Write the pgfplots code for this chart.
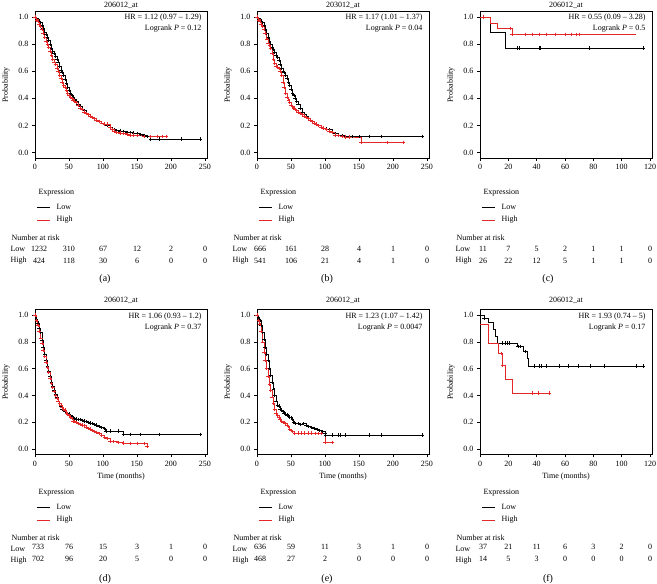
\documentclass[border=0pt]{standalone}
\usepackage{pgfplots}
\pgfplotsset{compat=1.18}
\usepackage{fontspec}
\setmainfont{Liberation Serif}
\definecolor{kmred}{RGB}{228,40,40}
\newcommand{\fs}{\fontsize{8}{9.6}\selectfont}
\pgfplotsset{
 km/.style={scale only axis, ymin=-0.04, ymax=1.04,
  ytick={0,0.2,0.4,0.6,0.8,1.0},
  yticklabel style={/pgf/number format/.cd, fixed, fixed zerofill, precision=1},
  /pgf/number format/assume math mode=true,
  tick align=outside, xtick pos=bottom, ytick pos=left,
  major tick length=3pt, tick style={black, line width=0.5pt},
  axis line style={line width=0.6pt},
  ticklabel style={font=\fs},
  ylabel={Probability},
  every axis title shift=0pt,
  every axis y label/.style={at={([xshift=-29pt]axis description cs:0,0.5)}, rotate=90, anchor=center, font=\fs},
  every axis x label/.style={at={([yshift=-22.6pt]axis description cs:0.5,0)}, anchor=center, font=\fs},
  title style={font=\fs, anchor=center},
 },
 wide/.style={width=172pt, xmin=0, xmax=253, xtick={0,50,100,150,200,250}},
 narrow/.style={width=172pt, xmin=0, xmax=121.4, xtick={0,20,40,60,80,100,120}},
 row1/.style={height=146.4pt, title style={at={([yshift=6.5pt]axis description cs:0.5,1)}}},
 row2/.style={height=144.8pt, title style={at={([yshift=9.6pt]axis description cs:0.5,1)}}, xlabel={Time (months)}},
 lowd/.style={const plot, black, line width=0.5pt, mark=+, mark size=1.7pt, mark options={line width=0.4pt}},
 highd/.style={const plot, kmred, line width=0.5pt, mark=+, mark size=1.7pt, mark options={line width=0.4pt}},
 lows/.style={const plot, black, line width=0.5pt, no marks},
 highs/.style={const plot, kmred, line width=0.5pt, no marks},
 lowm/.style={only marks, black, mark=+, mark size=1.8pt, mark options={line width=0.4pt}},
 highm/.style={only marks, kmred, mark=+, mark size=1.8pt, mark options={line width=0.4pt}},
}
\newcommand{\hr}[4]{% #1 right x, #2 top y, #3 HR text, #4 P
 \node[anchor=east] at (#1pt,-#2pt) {HR = #3};
 \node[anchor=east] at (#1pt,{-(#2+10.5)*1pt}) {Logrank \textit{P} = #4};}
\newcommand{\legblock}[2]{% #1 axis left, #2 y of Expression
 \node[anchor=west] at ({(#1-1)*1pt},-#2pt) {Expression};
 \draw[black, line width=0.6pt] ({(#1+1)*1pt},{-(#2+14)*1pt}) -- ({(#1+14)*1pt},{-(#2+14)*1pt});
 \node[anchor=west] at ({(#1+17)*1pt},{-(#2+14)*1pt}) {Low};
 \draw[kmred, line width=0.6pt] ({(#1+1)*1pt},{-(#2+27)*1pt}) -- ({(#1+14)*1pt},{-(#2+27)*1pt});
 \node[anchor=west] at ({(#1+17)*1pt},{-(#2+27)*1pt}) {High};
 \node[anchor=west] at ({(#1-28)*1pt},{-(#2+45)*1pt}) {Number at risk};
 \node[anchor=west] at ({(#1-29)*1pt},{-(#2+56)*1pt}) {Low};
 \node[anchor=west] at ({(#1-29)*1pt},{-(#2+68)*1pt}) {High};}
\begin{document}
\begin{tikzpicture}[font=\fs]
\path[use as bounding box] (0,0) rectangle (657pt,-584pt);
% ---------------- (a)
\begin{axis}[km, wide, row1, at={(35pt,-11.6pt)}, anchor=north west, title={206012\_at}]
\addplot[lowd] coordinates {(0,1.0)(2,0.99)(4,0.98)(6,0.97)(8,0.96)(10,0.94)(12,0.92)(14,0.89)(16,0.87)(18,0.85)(20,0.83)(22,0.80)(24,0.77)(26,0.75)(28,0.73)(30,0.71)(32,0.69)(34,0.67)(36,0.64)(38,0.61)(40,0.59)(42,0.57)(44,0.54)(46,0.51)(48,0.48)(50,0.46)(52,0.44)(54,0.42)(56,0.41)(58,0.39)(60,0.38)(63,0.36)(66,0.34)(69,0.32)(72,0.31)(75,0.29)(78,0.28)(81,0.27)(84,0.26)(87,0.25)(90,0.24)(94,0.23)(98,0.22)(102,0.21)(106,0.20)(110,0.19)(113,0.175)(116,0.17)(120,0.165)(125,0.16)(130,0.155)(135,0.15)(140,0.148)(145,0.145)(150,0.14)(155,0.135)(160,0.125)(165,0.12)(170,0.10)(183,0.10)(215,0.10)(243,0.10)};
\addplot[highd] coordinates {(0,1.0)(2,0.98)(4,0.97)(6,0.95)(8,0.93)(10,0.91)(12,0.88)(14,0.85)(16,0.82)(18,0.80)(20,0.78)(22,0.75)(24,0.72)(26,0.69)(28,0.67)(30,0.65)(32,0.62)(34,0.60)(36,0.57)(38,0.55)(40,0.52)(42,0.50)(44,0.48)(46,0.46)(48,0.44)(50,0.42)(52,0.41)(54,0.40)(56,0.39)(58,0.38)(60,0.37)(63,0.35)(66,0.33)(69,0.32)(72,0.30)(75,0.29)(78,0.28)(81,0.27)(84,0.26)(87,0.25)(90,0.24)(94,0.23)(98,0.22)(102,0.21)(106,0.21)(110,0.19)(113,0.17)(116,0.16)(120,0.15)(125,0.145)(130,0.14)(135,0.135)(140,0.13)(145,0.13)(150,0.125)(160,0.12)(170,0.12)(180,0.12)(187,0.12)(193,0.12)};
\end{axis}
% ---------------- (b)
\begin{axis}[km, wide, row1, at={(257pt,-11.6pt)}, anchor=north west, title={203012\_at}]
\addplot[lowd] coordinates {(0,1.0)(2,0.99)(4,0.98)(6,0.97)(8,0.96)(10,0.94)(12,0.91)(14,0.88)(16,0.85)(18,0.82)(20,0.80)(22,0.78)(24,0.76)(26,0.74)(28,0.72)(30,0.70)(32,0.68)(34,0.65)(36,0.62)(38,0.60)(40,0.59)(42,0.57)(44,0.55)(46,0.52)(48,0.50)(50,0.47)(52,0.44)(54,0.42)(56,0.40)(58,0.38)(60,0.36)(63,0.33)(66,0.30)(69,0.28)(72,0.27)(75,0.25)(78,0.24)(81,0.23)(84,0.22)(87,0.21)(90,0.20)(94,0.19)(98,0.18)(102,0.175)(106,0.17)(110,0.15)(115,0.14)(120,0.13)(125,0.125)(130,0.12)(140,0.12)(150,0.12)(165,0.12)(183,0.12)(243,0.12)};
\addplot[highd] coordinates {(0,1.0)(2,0.98)(4,0.97)(6,0.95)(8,0.93)(10,0.91)(12,0.88)(14,0.84)(16,0.81)(18,0.79)(20,0.77)(22,0.73)(24,0.69)(26,0.66)(28,0.64)(30,0.63)(32,0.62)(34,0.60)(36,0.57)(38,0.52)(40,0.48)(42,0.44)(44,0.41)(46,0.39)(48,0.37)(50,0.35)(52,0.34)(54,0.33)(56,0.32)(58,0.31)(60,0.30)(63,0.29)(66,0.28)(69,0.27)(72,0.26)(75,0.25)(78,0.24)(81,0.23)(84,0.22)(87,0.21)(90,0.20)(94,0.19)(98,0.18)(102,0.17)(106,0.16)(110,0.15)(115,0.13)(120,0.125)(125,0.12)(130,0.115)(135,0.115)(153,0.075)(192,0.075)(215,0.075)};
\end{axis}
% ---------------- (c)
\begin{axis}[km, narrow, row1, at={(480pt,-11.6pt)}, anchor=north west, title={206012\_at}]
\addplot[lows] coordinates {(0,1.0)(7,0.889)(18,0.77)(116,0.77)};
\addplot[highs] coordinates {(0,1.0)(7,0.957)(12,0.915)(22.5,0.87)(110,0.87)};
\addplot[lowm] coordinates {(26.5,0.77)(27.7,0.77)(41.5,0.77)(42.7,0.77)(77,0.77)(115,0.77)};
\addplot[highm] coordinates {(2.3,1.0)(21,0.915)(22.6,0.87)(32,0.87)(37,0.87)(41.5,0.87)(47,0.87)(53,0.87)(60,0.87)(64.6,0.87)(68,0.87)(70,0.87)};
\end{axis}
% ---------------- (d)
\begin{axis}[km, wide, row2, at={(35pt,-309.6pt)}, anchor=north west, title={206012\_at}]
\addplot[lowd] coordinates {(0,1.0)(2,0.97)(4,0.94)(6,0.90)(8,0.87)(10,0.81)(12,0.76)(14,0.71)(16,0.66)(18,0.62)(20,0.58)(22,0.54)(24,0.50)(26,0.47)(28,0.44)(30,0.41)(32,0.39)(34,0.36)(36,0.34)(38,0.32)(40,0.30)(42,0.29)(44,0.28)(46,0.275)(48,0.265)(50,0.26)(52,0.25)(54,0.24)(56,0.235)(58,0.23)(60,0.225)(63,0.22)(66,0.22)(69,0.215)(72,0.21)(75,0.205)(78,0.20)(81,0.195)(84,0.19)(87,0.185)(90,0.18)(94,0.17)(98,0.16)(102,0.155)(104,0.135)(110,0.135)(122,0.135)(130,0.11)(140,0.11)(155,0.11)(183,0.11)(243,0.11)};
\addplot[highd] coordinates {(0,1.0)(2,0.96)(4,0.92)(6,0.88)(8,0.83)(10,0.79)(12,0.74)(14,0.69)(16,0.65)(18,0.61)(20,0.57)(22,0.53)(24,0.49)(26,0.46)(28,0.43)(30,0.40)(32,0.38)(34,0.36)(36,0.34)(38,0.33)(40,0.31)(42,0.30)(44,0.29)(46,0.27)(48,0.26)(50,0.25)(52,0.24)(54,0.23)(56,0.21)(58,0.205)(60,0.20)(63,0.19)(66,0.185)(69,0.18)(72,0.175)(75,0.165)(78,0.155)(81,0.15)(84,0.14)(87,0.13)(90,0.125)(94,0.115)(98,0.10)(102,0.09)(106,0.08)(110,0.06)(115,0.055)(122,0.05)(130,0.045)(140,0.042)(150,0.042)(160,0.042)(165,0.02)};
\end{axis}
% ---------------- (e)
\begin{axis}[km, wide, row2, at={(257pt,-309.6pt)}, anchor=north west, title={206012\_at}]
\addplot[lowd] coordinates {(0,1.0)(2,0.98)(4,0.96)(6,0.92)(8,0.87)(10,0.82)(12,0.76)(14,0.71)(16,0.66)(18,0.60)(20,0.55)(22,0.50)(24,0.45)(26,0.40)(28,0.36)(30,0.33)(32,0.32)(34,0.30)(36,0.29)(38,0.28)(40,0.27)(42,0.26)(44,0.255)(46,0.25)(48,0.24)(50,0.235)(52,0.22)(54,0.20)(56,0.19)(60,0.19)(64,0.185)(68,0.19)(72,0.18)(76,0.17)(80,0.16)(84,0.155)(88,0.145)(92,0.14)(96,0.13)(100,0.12)(101,0.105)(110,0.105)(120,0.105)(122,0.105)(130,0.105)(165,0.105)(183,0.105)(243,0.105)};
\addplot[highd] coordinates {(0,1.0)(2,0.96)(4,0.93)(6,0.88)(8,0.80)(10,0.72)(12,0.66)(14,0.60)(16,0.54)(18,0.48)(20,0.44)(22,0.39)(24,0.34)(26,0.30)(28,0.27)(30,0.25)(32,0.24)(34,0.22)(36,0.21)(38,0.20)(40,0.20)(42,0.19)(44,0.18)(46,0.17)(48,0.15)(50,0.14)(52,0.13)(55,0.12)(60,0.12)(65,0.12)(70,0.12)(75,0.12)(80,0.12)(85,0.115)(90,0.115)(95,0.115)(100,0.05)(111,0.05)};
\end{axis}
% ---------------- (f)
\begin{axis}[km, narrow, row2, at={(480pt,-309.6pt)}, anchor=north west, title={206012\_at}]
\addplot[lows] coordinates {(0,1.0)(3,0.973)(6,0.946)(9,0.89)(11,0.84)(12.5,0.79)(26,0.765)(30.5,0.727)(33,0.68)(34,0.62)(116,0.62)};
\addplot[highs] coordinates {(0,0.929)(5.5,0.786)(13,0.714)(16,0.625)(17.5,0.52)(23,0.417)(49,0.417)};
\addplot[lowm] coordinates {(3,0.973)(16,0.79)(18,0.79)(19.5,0.79)(20.5,0.79)(27,0.765)(28.7,0.765)(31.7,0.727)(38,0.62)(42,0.62)(43,0.62)(47,0.62)(56,0.62)(62,0.62)(69,0.62)(78,0.62)(88,0.62)(110,0.62)(115,0.62)};
\addplot[highm] coordinates {(15,0.714)(16,0.625)(37,0.417)(41,0.417)(49,0.417)};
\end{axis}
% ---------------- annotations
\hr{205}{18}{1.12 (0.97 -- 1.29)}{0.12}
\hr{426}{18}{1.17 (1.01 -- 1.37)}{0.04}
\hr{649}{18}{0.55 (0.09 -- 3.28)}{0.5}
\hr{205}{317}{1.06 (0.93 -- 1.2)}{0.37}
\hr{426}{317}{1.23 (1.07 -- 1.42)}{0.0047}
\hr{649}{317}{1.93 (0.74 -- 5)}{0.17}
\legblock{36}{193}
\legblock{258}{193}
\legblock{481}{193}
\legblock{36}{493}
\legblock{258}{493}
\legblock{481}{493}
% risk numbers
\foreach \x/\a/\b in {39/1232/424, 69/310/118, 103/67/30, 137/12/6, 171/2/0, 205/0/0}
 {\node at (\x pt,-249pt) {\a}; \node at (\x pt,-261pt) {\b};}
\foreach \x/\a/\b in {260/666/541, 291/161/106, 325/28/21, 359/4/4, 393/1/1, 427/0/0}
 {\node at (\x pt,-249pt) {\a}; \node at (\x pt,-261pt) {\b};}
\foreach \x/\a/\b in {483/11/26, 508.3/7/22, 536.7/5/12, 565/2/5, 593.3/1/1, 621.7/1/1, 650/0/0}
 {\node at (\x pt,-249pt) {\a}; \node at (\x pt,-261pt) {\b};}
\foreach \x/\a/\b in {38/733/702, 69/76/96, 103/15/20, 137/3/5, 171/1/0, 205/0/0}
 {\node at (\x pt,-547pt) {\a}; \node at (\x pt,-559pt) {\b};}
\foreach \x/\a/\b in {260/636/468, 291/59/27, 325/11/2, 359/3/0, 393/1/0, 427/0/0}
 {\node at (\x pt,-547pt) {\a}; \node at (\x pt,-559pt) {\b};}
\foreach \x/\a/\b in {483/37/14, 508.3/21/5, 536.7/11/3, 565/6/0, 593.3/3/0, 621.7/2/0, 650/0/0}
 {\node at (\x pt,-547pt) {\a}; \node at (\x pt,-559pt) {\b};}
% panel letters
\node[font=\fontsize{10}{12}\selectfont] at (105pt,-279pt) {(a)};
\node[font=\fontsize{10}{12}\selectfont] at (327pt,-279pt) {(b)};
\node[font=\fontsize{10}{12}\selectfont] at (548pt,-279pt) {(c)};
\node[font=\fontsize{10}{12}\selectfont] at (105pt,-579pt) {(d)};
\node[font=\fontsize{10}{12}\selectfont] at (327pt,-579pt) {(e)};
\node[font=\fontsize{10}{12}\selectfont] at (548pt,-579pt) {(f)};
\end{tikzpicture}
\end{document}
